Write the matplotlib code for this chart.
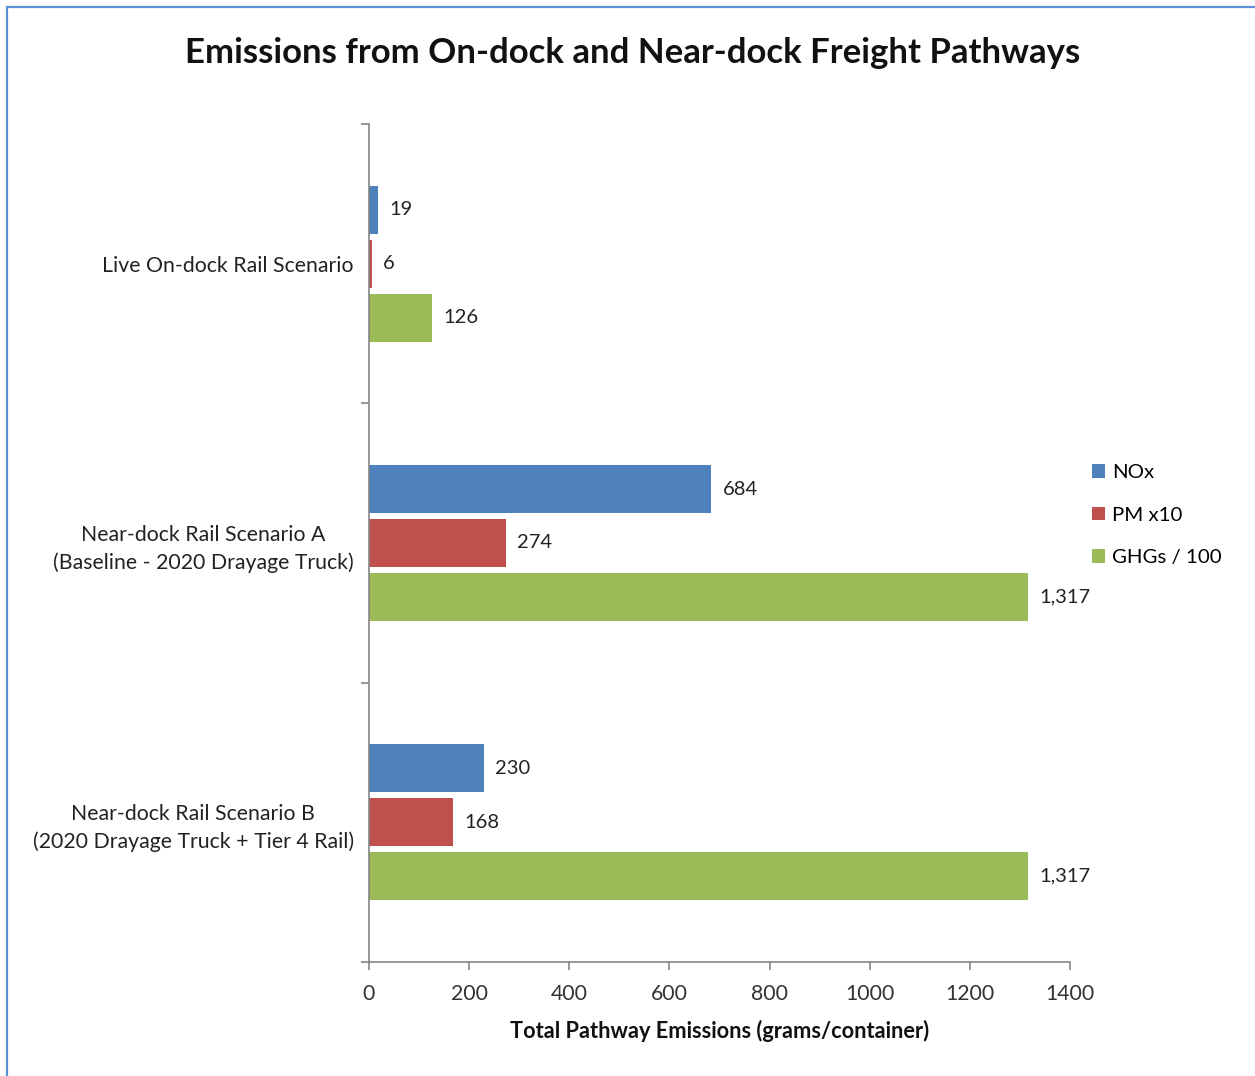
import matplotlib.pyplot as plt
import matplotlib.patches as mpatches
import numpy as np

plt.rcParams['font.family'] = ['Lato', 'DejaVu Sans']

categories = ['Live On-dock Rail Scenario',
              'Near-dock Rail Scenario A\n(Baseline - 2020 Drayage Truck)',
              'Near-dock Rail Scenario B\n(2020 Drayage Truck + Tier 4 Rail)']
series = ['NOx', 'PM x10', 'GHGs / 100']
nox = [19, 684, 230]
pm = [6, 274, 168]
ghg = [126, 1317, 1317]
colors = ['#4F81BD', '#C0504D', '#9BBB59']
xticks = [0, 200, 400, 600, 800, 1000, 1200, 1400]

fig = plt.figure(figsize=(12.55, 10.76), dpi=100)
ax = fig.add_axes([0.294, 0.106, 0.8526 - 0.294, 0.8848 - 0.106])

# blue frame around the chart
fig.patches.append(mpatches.Rectangle((7 / 1255, -0.1), 1.2, 1 - 7 / 1076 + 0.1,
                                      transform=fig.transFigure, fill=False,
                                      edgecolor='#5B8FD6', linewidth=1.6))

y = np.arange(len(categories))
h = 0.172
step = 0.193
for i, (vals, name, c) in enumerate(zip([nox, pm, ghg], series, colors)):
    pos = y + (i - 1) * step
    ax.barh(pos, vals, height=h, color=c, label=name)
    for p, v in zip(pos, vals):
        ax.text(v + 22, p, f'{v:,}', va='center', ha='left', fontsize=14.5, color='#222222')

ax.set_xlim(0, 1400)
ax.set_ylim(2.5, -0.5)
ax.set_xticks(xticks)
ax.set_xticklabels([str(t) for t in xticks], fontsize=15.3, color='#333333')
ax.set_yticks([-0.5, 0.5, 1.5, 2.5])
ax.set_yticklabels([])
ax.set_yticks(y, minor=True)
ax.set_yticklabels(categories, minor=True, fontsize=15.3, color='#222222',
                   multialignment='center', linespacing=1.45)
ax.tick_params(axis='y', which='minor', length=0, pad=11)
ax.tick_params(axis='both', which='major', length=6, color='#868686', width=1.2)
ax.tick_params(axis='x', pad=10)
for s in ['top', 'right']:
    ax.spines[s].set_visible(False)
for s in ['left', 'bottom']:
    ax.spines[s].set_color('#868686')
    ax.spines[s].set_linewidth(1.2)

ax.set_xlabel('Total Pathway Emissions (grams/container)', fontsize=15.7,
              fontweight='bold', color='#111111', labelpad=11)
fig.suptitle('Emissions from On-dock and Near-dock Freight Pathways', x=0.504, y=0.966,
             fontsize=25, fontweight='bold', color='#111111')

ax.legend(loc='center left', bbox_to_anchor=(1.005, 0.533), frameon=False, fontsize=14.7,
          handlelength=0.65, handleheight=0.65, handletextpad=0.35, labelspacing=1.25)

fig.savefig('out.png', dpi=100)
